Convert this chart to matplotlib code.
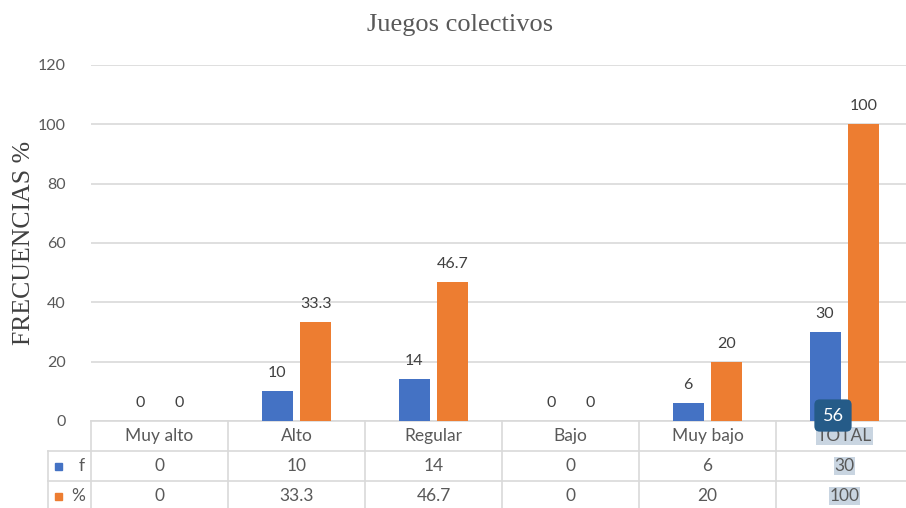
import matplotlib
matplotlib.use("Agg")
import matplotlib.pyplot as plt
import matplotlib.transforms as mtransforms
from matplotlib.patches import Rectangle

# ---------------------------------------------------------------------------
# Data
# ---------------------------------------------------------------------------
categories = ["Muy alto", "Alto", "Regular", "Bajo", "Muy bajo", "TOTAL"]
freq = [0, 10, 14, 0, 6, 30]
pct = [0, 33.3, 46.7, 0, 20, 100]
series_names = ["f", "%"]
yticks = [0, 20, 40, 60, 80, 100, 120]

BLUE = "#4472C4"
ORANGE = "#ED7D31"
GRID = "#D9D9D9"
TXT = "#595959"
LBL = "#404040"
SANS = "Lato"
SERIF = "Liberation Serif"

W, H = 906, 508
fig = plt.figure(figsize=(W / 100, H / 100), dpi=100)
fig.patch.set_facecolor("white")

# plot area in pixel units -> figure fraction
left_px, right_px = 91, 913
top_px, bottom_px = 65, 421
ax = fig.add_axes([left_px / W, 1 - bottom_px / H,
                   (right_px - left_px) / W, (bottom_px - top_px) / H])

x = list(range(len(categories)))
bw, off = 0.226, 0.142
b1 = ax.bar([i - off for i in x], freq, bw, color=BLUE, zorder=3)
b2 = ax.bar([i + off for i in x], pct, bw, color=ORANGE, zorder=3)

def fmt(v):
    return f"{v:g}"

for bars, vals in ((b1, freq), (b2, pct)):
    for rect, v in zip(bars, vals):
        ax.annotate(fmt(v), (rect.get_x() + rect.get_width() / 2, v),
                    xytext=(0, 8), textcoords="offset points",
                    ha="center", va="bottom", fontsize=11.5,
                    color=LBL, family=SANS)

ax.set_xlim(-0.5, len(categories) - 0.5)
ax.set_ylim(0, 120)
ax.set_yticks(yticks)
ax.set_yticklabels([str(t) for t in yticks], family=SANS, fontsize=11.5,
                   color=TXT)
ax.tick_params(axis="y", length=0, pad=18)
ax.set_xticks([])
ax.grid(axis="y", color=GRID, lw=1.2, zorder=0)
for s in ax.spines.values():
    s.set_visible(False)

fig.text(460 / W, 1 - 25 / H, "Juegos colectivos", ha="center", va="center",
         family=SERIF, fontsize=19, color=TXT)
fig.text(24 / W, 1 - 243 / H, "FRECUENCIAS %", ha="center", va="center",
         rotation=90, family=SERIF, fontsize=18.5, color=LBL)

# ---------------------------------------------------------------------------
# Data table under the plot area
# ---------------------------------------------------------------------------
row_h = 30 / (bottom_px - top_px)          # one row in axes units
trans = mtransforms.blended_transform_factory(ax.transData, ax.transAxes)
legend_left = -0.5 - (left_px - 48) / ((right_px - left_px) / len(categories))

line_kw = dict(color=GRID, lw=1.2, clip_on=False, zorder=1)
# horizontal rules
ax.plot([-0.5, 5.5], [0, 0], transform=trans, **line_kw)
for r in (1, 2):
    ax.plot([legend_left, 5.5], [-r * row_h, -r * row_h], transform=trans,
            **line_kw)
# vertical rules
ax.plot([legend_left, legend_left], [-row_h, -3 * row_h], transform=trans,
        **line_kw)
for i in range(len(categories)):
    ax.plot([i - 0.5, i - 0.5], [0, -3 * row_h], transform=trans, **line_kw)

hl = dict(boxstyle="square,pad=0.05", fc="#C9D5E1", ec="none")
cell_kw = dict(transform=trans, ha="center", va="center", family=SANS,
               fontsize=12.5, color=TXT, clip_on=False)
for i, c in enumerate(categories):
    last = i == len(categories) - 1
    ax.text(i, -0.5 * row_h, c, bbox=hl if last else None, **cell_kw)
    ax.text(i, -1.5 * row_h, fmt(freq[i]), bbox=hl if last else None,
            **cell_kw)
    ax.text(i, -2.5 * row_h, fmt(pct[i]), bbox=hl if last else None,
            **cell_kw)

# legend keys in the first column
px = (right_px - left_px) / len(categories)
for r, (name, col) in enumerate(zip(series_names, (BLUE, ORANGE))):
    yc = -(1.5 + r) * row_h
    sq = 7 / (bottom_px - top_px)
    ax.add_patch(Rectangle((legend_left + 7 / px, yc - sq / 2), 7 / px, sq,
                           transform=trans, color=col, clip_on=False))
    ax.text(-0.5 - 6 / px, yc, name, transform=trans, ha="right",
            va="center", family=SANS, fontsize=12.5, color=TXT,
            clip_on=False)

# selection badge on the TOTAL column
ax.text(5 - 0.084, 1.85, "56", ha="center", va="center", family=SANS,
        fontsize=13, color="white", zorder=5, clip_on=False,
        bbox=dict(boxstyle="round,pad=0.45,rounding_size=0.3",
                  fc="#255B88", ec="none"))

fig.savefig("out.png", dpi=100)
